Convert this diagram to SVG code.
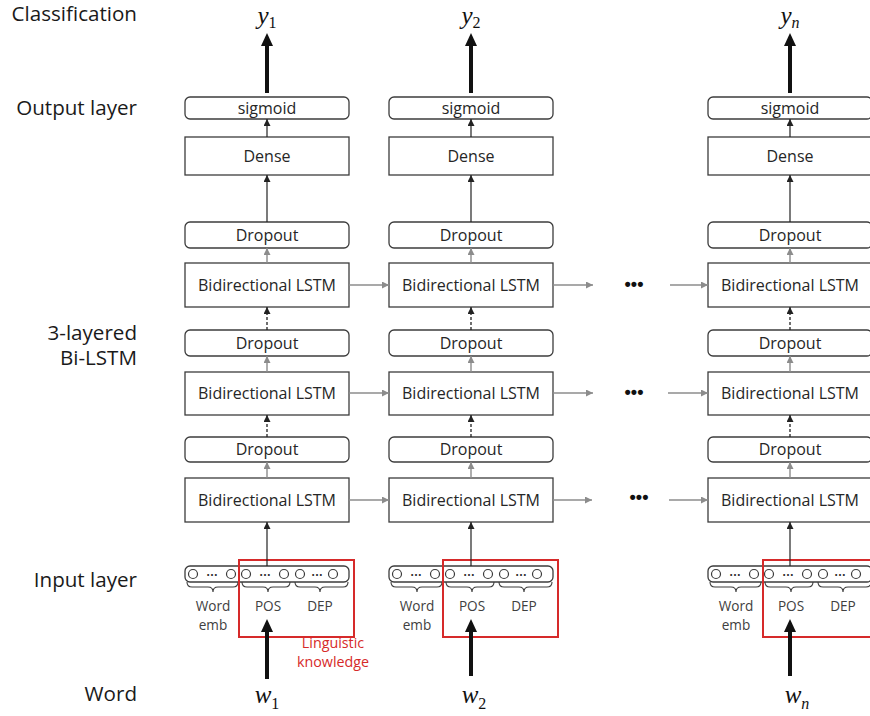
<svg xmlns="http://www.w3.org/2000/svg" width="870" height="716" viewBox="0 0 870 716">
<defs>
<style>
.box{fill:#fff;stroke:#3c3c3c;stroke-width:1.3}
.t{font-family:"Open Sans","Liberation Sans",sans-serif;font-size:16px;fill:#262626;text-anchor:middle}
.lbl{font-family:"Open Sans","Liberation Sans",sans-serif;font-size:20.6px;fill:#1a1a1a;text-anchor:end}
.sm{font-family:"Open Sans","Liberation Sans",sans-serif;font-size:13.6px;fill:#404040;text-anchor:middle}
.dots{font-family:"Liberation Sans",sans-serif;font-size:12px;font-weight:bold;fill:#333;text-anchor:middle}
.big{font-family:"Liberation Sans",sans-serif;font-size:18px;font-weight:bold;fill:#111;text-anchor:middle}
.red{fill:none;stroke:#d62a2a;stroke-width:2}
.ling{font-family:"Open Sans","Liberation Sans",sans-serif;font-size:14.3px;fill:#d62a2a;text-anchor:middle}
.math{font-family:"Liberation Serif",serif;font-style:italic;font-size:25px;fill:#111;text-anchor:middle}
.sub{font-style:normal;font-size:16px}
.subi{font-size:16px}
.circ{fill:#fff;stroke:#3c3c3c;stroke-width:1.2}
.brace{fill:none;stroke:#3c3c3c;stroke-width:1.1}
.blk{stroke:#222;stroke-width:1.2;fill:none;marker-end:url(#ab)}
.dash{stroke:#222;stroke-width:1.3;fill:none;stroke-dasharray:3 2;marker-end:url(#ab)}
.gry{stroke:#8c8c8c;stroke-width:1.4;fill:none;marker-end:url(#ag)}
.thick{stroke:#111;stroke-width:4;fill:none}
.head{fill:#111}
</style>
<marker id="ab" markerUnits="userSpaceOnUse" markerWidth="8" markerHeight="8" refX="7" refY="3.5" orient="auto"><path d="M0,0 L7,3.5 L0,7 z" fill="#222"/></marker>
<marker id="ag" markerUnits="userSpaceOnUse" markerWidth="8" markerHeight="8" refX="7" refY="3.5" orient="auto"><path d="M0,0 L7,3.5 L0,7 z" fill="#8c8c8c"/></marker>
</defs>
<rect width="870" height="716" fill="#fff"/>

<g id="row-labels">
<text class="lbl" x="137" y="21">Classification</text>
<text class="lbl" x="137" y="115">Output layer</text>
<text class="lbl" x="137" y="340">3-layered</text>
<text class="lbl" x="137" y="365">Bi-LSTM</text>
<text class="lbl" x="137" y="587">Input layer</text>
<text class="lbl" x="137" y="701">Word</text>
</g>

<!-- ===== Column 1 ===== -->
<g id="y1"><text class="math" x="267" y="24">y<tspan class="sub" dy="4">1</tspan></text></g>
<g id="sigmoid1"><rect class="box" x="185" y="97" width="164" height="22" rx="5"/><text class="t" x="267" y="113.5">sigmoid</text></g>
<g id="dense1"><rect class="box" x="185" y="137" width="164" height="38"/><text class="t" x="267" y="161.5">Dense</text></g>
<g id="dropoutA1"><rect class="box" x="185" y="222" width="164" height="26" rx="5"/><text class="t" x="267" y="240.5">Dropout</text></g>
<g id="lstmA1"><rect class="box" x="185" y="263" width="164" height="44"/><text class="t" x="267" y="290.5">Bidirectional LSTM</text></g>
<g id="dropoutB1"><rect class="box" x="185" y="330" width="164" height="26" rx="5"/><text class="t" x="267" y="348.5">Dropout</text></g>
<g id="lstmB1"><rect class="box" x="185" y="372" width="164" height="43"/><text class="t" x="267" y="399">Bidirectional LSTM</text></g>
<g id="dropoutC1"><rect class="box" x="185" y="437" width="164" height="25" rx="5"/><text class="t" x="267" y="455">Dropout</text></g>
<g id="lstmC1"><rect class="box" x="185" y="478" width="164" height="44"/><text class="t" x="267" y="505.5">Bidirectional LSTM</text></g>
<g id="input1">
<rect class="box" x="185" y="566" width="164" height="16" rx="5"/>
<circle class="circ" cx="193" cy="574" r="4.5"/><circle class="circ" cx="231" cy="574" r="4.5"/>
<circle class="circ" cx="246" cy="574" r="4.5"/><circle class="circ" cx="284" cy="574" r="4.5"/>
<circle class="circ" cx="300" cy="574" r="4.5"/><circle class="circ" cx="333" cy="574" r="4.5"/>
<text class="dots" x="212" y="576">…</text><text class="dots" x="265" y="576">…</text><text class="dots" x="317" y="576">…</text>
<path class="brace" d="M187,582 Q187,587 192,587 L208,587 Q213,587 213,592 Q213,587 218,587 L233,587 Q238,587 238,582"/>
<path class="brace" d="M242,582 Q242,587 247,587 L263,587 Q268,587 268,592 Q268,587 273,587 L285,587 Q290,587 290,582"/>
<path class="brace" d="M295,582 Q295,587 300,587 L315,587 Q320,587 320,592 Q320,587 325,587 L343,587 Q348,587 348,582"/>
<text class="sm" x="213" y="611">Word</text><text class="sm" x="213" y="630">emb</text>
<text class="sm" x="268" y="611">POS</text><text class="sm" x="320" y="611">DEP</text>
</g>
<g id="ling1"><rect class="red" x="239" y="560" width="115" height="77"/>
<text class="ling" x="333" y="648">Linguistic</text><text class="ling" x="333" y="667">knowledge</text></g>
<g id="w1"><text class="math" x="267" y="703">w<tspan class="sub" dy="6">1</tspan></text></g>

<!-- ===== Column 2 ===== -->
<g id="y2"><text class="math" x="471" y="24">y<tspan class="sub" dy="4">2</tspan></text></g>
<g id="sigmoid2"><rect class="box" x="389" y="97" width="164" height="22" rx="5"/><text class="t" x="471" y="113.5">sigmoid</text></g>
<g id="dense2"><rect class="box" x="389" y="137" width="164" height="38"/><text class="t" x="471" y="161.5">Dense</text></g>
<g id="dropoutA2"><rect class="box" x="389" y="222" width="164" height="26" rx="5"/><text class="t" x="471" y="240.5">Dropout</text></g>
<g id="lstmA2"><rect class="box" x="389" y="263" width="164" height="44"/><text class="t" x="471" y="290.5">Bidirectional LSTM</text></g>
<g id="dropoutB2"><rect class="box" x="389" y="330" width="164" height="26" rx="5"/><text class="t" x="471" y="348.5">Dropout</text></g>
<g id="lstmB2"><rect class="box" x="389" y="372" width="164" height="43"/><text class="t" x="471" y="399">Bidirectional LSTM</text></g>
<g id="dropoutC2"><rect class="box" x="389" y="437" width="164" height="25" rx="5"/><text class="t" x="471" y="455">Dropout</text></g>
<g id="lstmC2"><rect class="box" x="389" y="478" width="164" height="44"/><text class="t" x="471" y="505.5">Bidirectional LSTM</text></g>
<g id="input2">
<rect class="box" x="389" y="566" width="164" height="16" rx="5"/>
<circle class="circ" cx="397" cy="574" r="4.5"/><circle class="circ" cx="435" cy="574" r="4.5"/>
<circle class="circ" cx="450" cy="574" r="4.5"/><circle class="circ" cx="488" cy="574" r="4.5"/>
<circle class="circ" cx="504" cy="574" r="4.5"/><circle class="circ" cx="537" cy="574" r="4.5"/>
<text class="dots" x="416" y="576">…</text><text class="dots" x="469" y="576">…</text><text class="dots" x="521" y="576">…</text>
<path class="brace" d="M391,582 Q391,587 396,587 L412,587 Q417,587 417,592 Q417,587 422,587 L437,587 Q442,587 442,582"/>
<path class="brace" d="M446,582 Q446,587 451,587 L467,587 Q472,587 472,592 Q472,587 477,587 L489,587 Q494,587 494,582"/>
<path class="brace" d="M499,582 Q499,587 504,587 L519,587 Q524,587 524,592 Q524,587 529,587 L547,587 Q552,587 552,582"/>
<text class="sm" x="417" y="611">Word</text><text class="sm" x="417" y="630">emb</text>
<text class="sm" x="472" y="611">POS</text><text class="sm" x="524" y="611">DEP</text>
</g>
<g id="ling2"><rect class="red" x="443" y="560" width="115" height="77"/></g>
<g id="w2"><text class="math" x="474" y="703">w<tspan class="sub" dy="6">2</tspan></text></g>

<!-- ===== Column n ===== -->
<g id="yn"><text class="math" x="790" y="24">y<tspan class="subi" dy="4">n</tspan></text></g>
<g id="sigmoidN"><rect class="box" x="708" y="97" width="164" height="22" rx="5"/><text class="t" x="790" y="113.5">sigmoid</text></g>
<g id="denseN"><rect class="box" x="708" y="137" width="164" height="38"/><text class="t" x="790" y="161.5">Dense</text></g>
<g id="dropoutAN"><rect class="box" x="708" y="222" width="164" height="26" rx="5"/><text class="t" x="790" y="240.5">Dropout</text></g>
<g id="lstmAN"><rect class="box" x="708" y="263" width="164" height="44"/><text class="t" x="790" y="290.5">Bidirectional LSTM</text></g>
<g id="dropoutBN"><rect class="box" x="708" y="330" width="164" height="26" rx="5"/><text class="t" x="790" y="348.5">Dropout</text></g>
<g id="lstmBN"><rect class="box" x="708" y="372" width="164" height="43"/><text class="t" x="790" y="399">Bidirectional LSTM</text></g>
<g id="dropoutCN"><rect class="box" x="708" y="437" width="164" height="25" rx="5"/><text class="t" x="790" y="455">Dropout</text></g>
<g id="lstmCN"><rect class="box" x="708" y="478" width="164" height="44"/><text class="t" x="790" y="505.5">Bidirectional LSTM</text></g>
<g id="inputN">
<rect class="box" x="708" y="566" width="164" height="16" rx="5"/>
<circle class="circ" cx="716" cy="574" r="4.5"/><circle class="circ" cx="754" cy="574" r="4.5"/>
<circle class="circ" cx="769" cy="574" r="4.5"/><circle class="circ" cx="807" cy="574" r="4.5"/>
<circle class="circ" cx="823" cy="574" r="4.5"/><circle class="circ" cx="856" cy="574" r="4.5"/>
<text class="dots" x="735" y="576">…</text><text class="dots" x="788" y="576">…</text><text class="dots" x="840" y="576">…</text>
<path class="brace" d="M710,582 Q710,587 715,587 L731,587 Q736,587 736,592 Q736,587 741,587 L756,587 Q761,587 761,582"/>
<path class="brace" d="M765,582 Q765,587 770,587 L786,587 Q791,587 791,592 Q791,587 796,587 L808,587 Q813,587 813,582"/>
<path class="brace" d="M818,582 Q818,587 823,587 L838,587 Q843,587 843,592 Q843,587 848,587 L866,587 Q871,587 871,582"/>
<text class="sm" x="736" y="611">Word</text><text class="sm" x="736" y="630">emb</text>
<text class="sm" x="791" y="611">POS</text><text class="sm" x="843" y="611">DEP</text>
</g>
<g id="lingN"><rect class="red" x="763" y="560" width="115" height="77"/></g>
<g id="wn"><text class="math" x="797" y="703">w<tspan class="subi" dy="6">n</tspan></text></g>

<g id="ellipses">
<text class="big" x="634" y="290">•••</text>
<text class="big" x="634" y="398">•••</text>
<text class="big" x="639" y="503">•••</text>
</g>

<g id="connectors">
<line class="thick" x1="267" y1="93" x2="267" y2="44"/><polygon class="head" points="267,33 261,46 273,46"/>
<line class="thick" x1="471" y1="93" x2="471" y2="44"/><polygon class="head" points="471,33 465,46 477,46"/>
<line class="thick" x1="790" y1="93" x2="790" y2="44"/><polygon class="head" points="790,33 784,46 796,46"/>
<line class="thick" x1="267" y1="679" x2="267" y2="630"/><polygon class="head" points="267,619 261,632 273,632"/>
<line class="thick" x1="471" y1="676" x2="471" y2="630"/><polygon class="head" points="471,619 465,632 477,632"/>
<line class="thick" x1="790" y1="676" x2="790" y2="630"/><polygon class="head" points="790,619 784,632 796,632"/>
<line class="blk" x1="267" y1="137" x2="267" y2="119"/>
<line class="blk" x1="267" y1="222" x2="267" y2="175"/>
<line class="gry" x1="267" y1="263" x2="267" y2="248"/>
<line class="dash" x1="267" y1="330" x2="267" y2="307"/>
<line class="gry" x1="267" y1="372" x2="267" y2="356"/>
<line class="dash" x1="267" y1="437" x2="267" y2="415"/>
<line class="gry" x1="267" y1="478" x2="267" y2="462"/>
<line class="blk" x1="267" y1="566" x2="267" y2="522"/>
<line class="blk" x1="471" y1="137" x2="471" y2="119"/>
<line class="blk" x1="471" y1="222" x2="471" y2="175"/>
<line class="gry" x1="471" y1="263" x2="471" y2="248"/>
<line class="dash" x1="471" y1="330" x2="471" y2="307"/>
<line class="gry" x1="471" y1="372" x2="471" y2="356"/>
<line class="dash" x1="471" y1="437" x2="471" y2="415"/>
<line class="gry" x1="471" y1="478" x2="471" y2="462"/>
<line class="blk" x1="471" y1="566" x2="471" y2="522"/>
<line class="blk" x1="790" y1="137" x2="790" y2="119"/>
<line class="blk" x1="790" y1="222" x2="790" y2="175"/>
<line class="gry" x1="790" y1="263" x2="790" y2="248"/>
<line class="dash" x1="790" y1="330" x2="790" y2="307"/>
<line class="gry" x1="790" y1="372" x2="790" y2="356"/>
<line class="dash" x1="790" y1="437" x2="790" y2="415"/>
<line class="gry" x1="790" y1="478" x2="790" y2="462"/>
<line class="blk" x1="790" y1="566" x2="790" y2="522"/>
<line class="gry" x1="349" y1="285" x2="389" y2="285"/>
<line class="gry" x1="553" y1="285" x2="593" y2="285"/>
<line class="gry" x1="670" y1="285" x2="708" y2="285"/>
<line class="gry" x1="349" y1="393" x2="389" y2="393"/>
<line class="gry" x1="553" y1="393" x2="593" y2="393"/>
<line class="gry" x1="668" y1="393" x2="708" y2="393"/>
<line class="gry" x1="349" y1="500" x2="389" y2="500"/>
<line class="gry" x1="553" y1="500" x2="592" y2="500"/>
<line class="gry" x1="669" y1="500" x2="708" y2="500"/>
</g>
</svg>
